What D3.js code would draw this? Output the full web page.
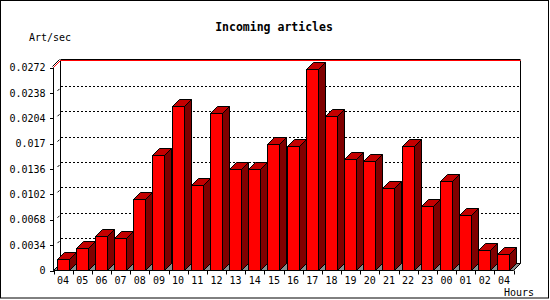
<!DOCTYPE html>
<meta charset="utf-8">
<style>
body { margin: 0; background: #fff; }
text { font-family: "DejaVu Sans Mono", "Liberation Mono", monospace; fill: #000; }
</style>
<body>
<script src="https://cdnjs.cloudflare.com/ajax/libs/d3/7.8.5/d3.min.js"></script>
<script>
// hours on the x axis, as printed
var hours = ["04","05","06","07","08","09","10","11","12","13","14","15",
             "16","17","18","19","20","21","22","23","00","01","02","04"];
// articles per second
var artPerSec = [0.00157,0.00305,0.00456,0.00429,0.00953,0.01543,0.0220,0.0114,
                 0.02116,0.01364,0.01364,0.0170,0.01673,0.02706,0.02067,0.01499,
                 0.01472,0.0111,0.01673,0.00868,0.01204,0.00747,0.00278,0.00224];
var yTicks = [0,0.0034,0.0068,0.0102,0.0136,0.017,0.0204,0.0238,0.0272];
var yTickLabels = ["0","0.0034","0.0068","0.0102","0.0136","0.017","0.0204","0.0238","0.0272"];

var width = 550, height = 300;
var depth = 7;          // 3d offset
// (window.top is read-only, so no plain "top" here)
var plotL = 53.5, plotR = 513.5, plotB = 270.5, plotT = 67.5;

var svg = d3.select("body").append("svg")
  .attr("width", width)
  .attr("height", height);

// outer frame
svg.append("rect")
  .attr("x", 0.5).attr("y", 0.5)
  .attr("width", 548).attr("height", 297.5)
  .attr("fill", "none").attr("stroke", "#000");

var x = d3.scaleBand()
  .domain(d3.range(hours.length))
  .range([plotL, plotR]);

var y = d3.scaleLinear()
  .domain([0, 0.0272])
  .range([plotB, plotT]);

var g = svg.append("g");

// back wall grid (dotted)
g.append("g").selectAll("line")
  .data(yTicks.slice(1, -1))
  .enter().append("line")
  .attr("x1", plotL + depth).attr("x2", plotR + depth)
  .attr("y1", function(d) { return Math.round(y(d) - depth) + 0.5; })
  .attr("y2", function(d) { return Math.round(y(d) - depth) + 0.5; })
  .attr("stroke", "#000")
  .attr("stroke-dasharray", "2,2")
  .attr("shape-rendering", "crispEdges");

// little slants between front axis and back wall
g.append("g").selectAll("line")
  .data(yTicks.slice(1, -1))
  .enter().append("line")
  .attr("x1", plotL + 4).attr("x2", plotL + 6)
  .attr("y1", function(d) { return y(d) - 2; })
  .attr("y2", function(d) { return y(d) - 4; })
  .attr("stroke", "#000");

// back wall edges
g.append("line")
  .attr("x1", plotL + depth).attr("x2", plotL + depth)
  .attr("y1", plotT - depth).attr("y2", plotB - depth)
  .attr("stroke", "#000");
g.append("line")
  .attr("x1", plotR + depth).attr("x2", plotR + depth)
  .attr("y1", plotT - depth).attr("y2", plotB - depth)
  .attr("stroke", "#000");

// top edge: black then red
g.append("line")
  .attr("x1", plotL + depth).attr("x2", plotR + depth)
  .attr("y1", plotT - depth - 1).attr("y2", plotT - depth - 1)
  .attr("stroke", "#000");
g.append("line")
  .attr("x1", plotL + depth).attr("x2", plotR + depth)
  .attr("y1", plotT - depth).attr("y2", plotT - depth)
  .attr("stroke", "#f00");
g.append("line")
  .attr("x1", plotL - 1).attr("y1", plotT - 1)
  .attr("x2", plotL + depth - 1).attr("y2", plotT - depth - 1)
  .attr("stroke", "#000");
g.append("line")
  .attr("x1", plotL).attr("y1", plotT)
  .attr("x2", plotL + depth).attr("y2", plotT - depth)
  .attr("stroke", "#f00");

// floor
g.append("polygon")
  .attr("points", [[plotL, plotB], [plotR, plotB], [plotR + depth, plotB - depth], [plotL + depth, plotB - depth]].join(" "))
  .attr("fill", "#8c8c8c")
  .attr("stroke", "#000");

// bars
var bw = x.bandwidth();
var off = Math.round(bw * 0.17), fw = Math.round(bw * 0.61);

var bars = g.append("g").selectAll("g")
  .data(artPerSec)
  .enter().append("g");

function pts(a) { return a.map(function(p) { return p.join(","); }).join(" "); }

bars.append("polygon") // side
  .attr("points", function(d, i) {
    var x1 = Math.round(x(i)) + off + fw + 0.5, yt = Math.round(y(d)) + 0.5;
    return pts([[x1, yt], [x1 + depth, yt - depth], [x1 + depth, plotB - depth], [x1, plotB]]);
  })
  .attr("fill", "#800000").attr("stroke", "#000");

bars.append("polygon") // top
  .attr("points", function(d, i) {
    var x0 = Math.round(x(i)) + off + 0.5, x1 = x0 + fw, yt = Math.round(y(d)) + 0.5;
    return pts([[x0, yt], [x0 + depth, yt - depth], [x1 + depth, yt - depth], [x1, yt]]);
  })
  .attr("fill", "#c40000").attr("stroke", "#000");

bars.append("rect") // front
  .attr("x", function(d, i) { return Math.round(x(i)) + off + 0.5; })
  .attr("y", function(d) { return Math.round(y(d)) + 0.5; })
  .attr("width", fw)
  .attr("height", function(d) { return plotB - (Math.round(y(d)) + 0.5); })
  .attr("fill", "#f00").attr("stroke", "#000")
  .attr("shape-rendering", "crispEdges");

// y axis
var yAxis = d3.axisLeft(y)
  .tickValues(yTicks)
  .tickSize(4)
  .tickPadding(4)
  .tickFormat(function(d, i) { return yTickLabels[i]; });
var ya = svg.append("g")
  .attr("transform", "translate(" + plotL + ",0)")
  .call(yAxis);
ya.select(".domain").remove();
ya.selectAll("line").attr("stroke", "#000").attr("shape-rendering", "crispEdges");
ya.selectAll("text").attr("font-size", 10).attr("font-family", "DejaVu Sans Mono");
svg.append("line")
  .attr("x1", plotL).attr("x2", plotL)
  .attr("y1", plotT).attr("y2", plotB)
  .attr("stroke", "#000");

// x axis labels
var xAxis = d3.axisBottom(x)
  .tickSize(0)
  .tickPadding(6)
  .tickFormat(function(i) { return hours[i]; });
var xa = svg.append("g")
  .attr("transform", "translate(0," + plotB + ")")
  .call(xAxis);
xa.select(".domain").remove();
xa.selectAll("text").attr("font-size", 10).attr("font-family", "DejaVu Sans Mono");

// x ticks on band edges
svg.append("g").selectAll("line")
  .data(d3.range(hours.length + 1))
  .enter().append("line")
  .attr("x1", function(i) { return Math.round(i < hours.length ? x(i) : plotR) + 0.5; })
  .attr("x2", function(i) { return Math.round(i < hours.length ? x(i) : plotR) + 0.5; })
  .attr("y1", plotB).attr("y2", plotB + 4)
  .attr("stroke", "#000");

// titles
svg.append("text")
  .attr("x", 274).attr("y", 31)
  .attr("text-anchor", "middle")
  .attr("font-size", 11.5)
  .attr("font-weight", "bold")
  .text("Incoming articles");
svg.append("text")
  .attr("x", 29).attr("y", 41)
  .attr("font-size", 10)
  .text("Art/sec");
svg.append("text")
  .attr("x", 534).attr("y", 296)
  .attr("text-anchor", "end")
  .attr("font-size", 10)
  .text("Hours");
</script>
</body>
